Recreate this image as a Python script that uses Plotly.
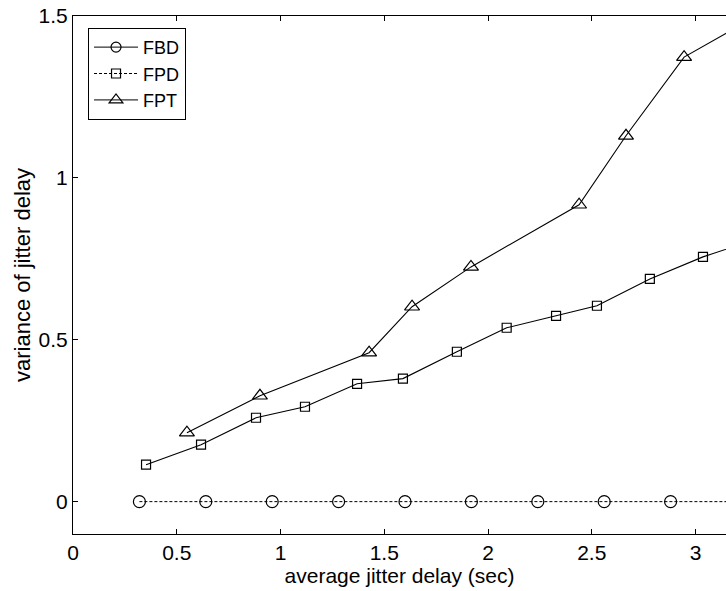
import plotly.graph_objects as go

# ---- data ----
fbd_x = [0.32, 0.64, 0.96, 1.28, 1.60, 1.92, 2.24, 2.56, 2.88, 3.20]
fbd_y = [0, 0, 0, 0, 0, 0, 0, 0, 0, 0]

fpd_x = [0.352, 0.617, 0.882, 1.118, 1.369, 1.59, 1.85, 2.09, 2.328, 2.525, 2.78, 3.036, 3.29]
fpd_y = [0.114, 0.176, 0.259, 0.293, 0.364, 0.38, 0.463, 0.537, 0.574, 0.605, 0.688, 0.756, 0.81]

fpt_x = [0.549, 0.901, 1.427, 1.634, 1.918, 2.439, 2.665, 2.945, 3.35]
fpt_y = [0.213, 0.327, 0.46, 0.602, 0.725, 0.917, 1.13, 1.373, 1.52]

x_ticks = [0, 0.5, 1, 1.5, 2, 2.5, 3]
x_tick_labels = ["0", "0.5", "1", "1.5", "2", "2.5", "3"]
y_ticks = [0, 0.5, 1, 1.5]
y_tick_labels = ["0", "0.5", "1", "1.5"]

FONT = "Liberation Sans, Arial, Helvetica, sans-serif"
DASH = "3px,2px"

fig = go.Figure()

# data traces (as drawn in the plot)
fig.add_trace(go.Scatter(x=fbd_x, y=fbd_y, mode="lines+markers", showlegend=False,
                         line=dict(color="black", width=1, dash=DASH),
                         marker=dict(symbol="circle-open", size=12, color="black", line=dict(width=1.2))))
fig.add_trace(go.Scatter(x=fpd_x, y=fpd_y, mode="lines+markers", showlegend=False,
                         line=dict(color="black", width=1.1),
                         marker=dict(symbol="square-open", size=9, color="black", line=dict(width=1.2))))
fig.add_trace(go.Scatter(x=fpt_x, y=fpt_y, mode="lines+markers", showlegend=False,
                         line=dict(color="black", width=1.1),
                         marker=dict(symbol="triangle-up-open", size=13, color="black", line=dict(width=1.2))))

# legend entries (styled as in the reference legend)
fig.add_trace(go.Scatter(x=[None], y=[None], name="FBD", mode="lines+markers", legendgroup="a",
                         line=dict(color="black", width=1),
                         marker=dict(symbol="circle-open", size=10, color="black", line=dict(width=1.2))))
fig.add_trace(go.Scatter(x=[None], y=[None], name="FPD", mode="lines+markers", legendgroup="b",
                         line=dict(color="black", width=1, dash=DASH),
                         marker=dict(symbol="square-open", size=9, color="black", line=dict(width=1.2))))
fig.add_trace(go.Scatter(x=[None], y=[None], name="FPT", mode="lines+markers", legendgroup="c",
                         line=dict(color="black", width=1),
                         marker=dict(symbol="triangle-up-open", size=12, color="black", line=dict(width=1.2))))

# invisible trace on top x axis for mirrored ticks
fig.add_trace(go.Scatter(x=[None], y=[None], xaxis="x2", showlegend=False, hoverinfo="skip"))

fig.update_layout(
    width=726, height=591,
    margin=dict(l=73, r=0, t=16, b=57),
    paper_bgcolor="white", plot_bgcolor="white",
    font=dict(family=FONT, size=21, color="black"),
    showlegend=True,
    legend=dict(x=0.023, y=0.977, xanchor="left", yanchor="top",
                bordercolor="black", borderwidth=1, bgcolor="white",
                font=dict(size=18), tracegroupgap=0, itemwidth=44),
    xaxis=dict(range=[0, 3.147], tickvals=x_ticks, ticktext=x_tick_labels,
               ticks="inside", ticklen=5, tickcolor="black", tickwidth=1,
               showline=True, linecolor="black", linewidth=1,
               showgrid=False, zeroline=False, tickfont=dict(size=21),
               title=dict(text="average jitter delay (sec)", font=dict(size=21), standoff=2),
               automargin=False),
    xaxis2=dict(range=[0, 3.147], overlaying="x", side="top", tickvals=x_ticks,
                showticklabels=False, ticks="inside", ticklen=5, tickcolor="black",
                showline=True, linecolor="black", linewidth=1,
                showgrid=False, zeroline=False, automargin=False),
    yaxis=dict(range=[-0.1, 1.5], tickvals=y_ticks, ticktext=y_tick_labels,
               ticks="inside", ticklen=5, tickcolor="black", tickwidth=1,
               showline=True, linecolor="black", linewidth=1,
               showgrid=False, zeroline=False, tickfont=dict(size=21),
               title=dict(text="variance of jitter delay", font=dict(size=22), standoff=1),
               automargin=False),
)

fig.write_html("out.html")
